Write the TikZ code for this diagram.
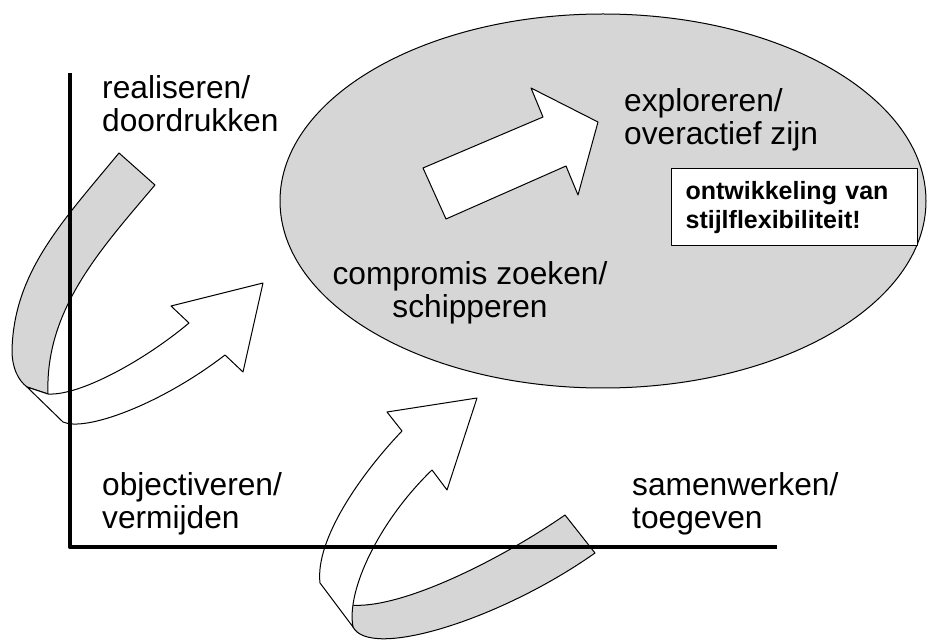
\documentclass[tikz,border=0pt]{standalone}
\usepackage{fontspec}
\setmainfont{Liberation Sans}
\usepackage{tikz}
\definecolor{bandgray}{gray}{0.84}

\begin{document}
\begin{tikzpicture}[x=1pt,y=-1pt,line join=round,
    band/.style={fill=bandgray,draw=black,line width=1pt},
    ribbon/.style={fill=white,draw=black,line width=1pt},
    lbl/.style={inner sep=0pt,align=left,font=\fontsize{31.7}{33}\selectfont}]
    \useasboundingbox (0,0) rectangle (927,644);
    \draw[fill=bandgray,line width=1pt](603,201) ellipse [x radius=323, y radius=187];
    \draw[ribbon](423,168)--(543,117)--(531,88)--(598,122)--(578,195)--(566,166)--(446,219)--cycle;
    % left loop
    \draw[band](119,153) .. controls (62,222) and (14,272) .. (12,350) .. controls (12,368) and (18,380) .. (27,387)--(48,394) .. controls (45,310) and (100,250) .. (155,185)--cycle;
    \draw[ribbon](27,387)--(63,422) .. controls (85,432) and (160,405) .. (225,355)--(243,372)--(263,283)--(171,306)--(189,323) .. controls (145,360) and (80,396) .. (48,394)--cycle;
    % bottom loop
    \draw[band](565,515)--(595,553) .. controls (500,620) and (370,660) .. (353,627) .. controls (350,618) and (349,612) .. (350,605) .. controls (400,610) and (500,560) .. (565,515)--cycle;
    \draw[ribbon](320,583)--(353,627) .. controls (346,590) and (380,520) .. (432,470)--(447,490)--(477,398)--(387,412)--(402,431) .. controls (360,475) and (315,540) .. (320,583)--cycle;
    \draw[line width=4.5pt](70,73)--(70,547)--(777,547);
    \node[lbl,anchor=north west](real) at (102,75){realiseren/\\doordrukken};
    \node[lbl,anchor=north west](expl) at (624,88){exploreren/\\overactief zijn};
    \node[lbl,anchor=north,align=center](comp) at (470,261){compromis zoeken/\\schipperen};
    \node[lbl,anchor=north west](obj) at (102,472){objectiveren/\\vermijden};
    \node[lbl,anchor=north west](samen) at (632,472){samenwerken/\\toegeven};
    \node[draw,fill=white,line width=1.2pt,anchor=north west,minimum height=77pt,text width=218pt,inner xsep=14pt,align=left,font=\bfseries\fontsize{25}{29}\selectfont](flex) at (671,168){ontwikkeling van\\stijlflexibiliteit!};
\end{tikzpicture}
\end{document}
